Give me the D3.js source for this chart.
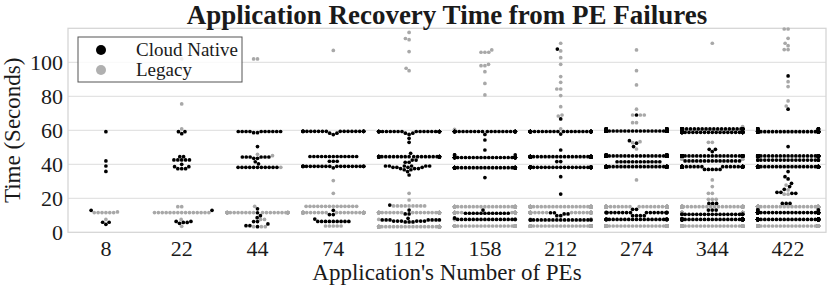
<!DOCTYPE html>
<meta charset="utf-8" />
<style>
  body { margin: 0; background: #fff; }
  text { font-family: "Liberation Serif", "Times New Roman", serif; fill: #1a1a1a; }
  .grid line { stroke: #dcdcdc; stroke-width: 1; }
  .frame { fill: none; stroke: #d4d4d4; stroke-width: 1.25; }
</style>
<svg width="830" height="291"></svg>
<script src="https://d3js.org/d3.v7.min.js"></script>
<script>
  // number of PEs per application (x categories)
  var pes = [8, 22, 44, 74, 112, 158, 212, 274, 344, 422];
  var yTicks = [0, 20, 40, 60, 80, 100];

  // recovery times, [seconds, how many failures] per category
  var cloudNative = [
    [[59.2,1],[42,1],[39,1],[35.8,1],[12.9,1],[5.9,2],[4.7,1]],
    [[59.2,2],[58,1],[44.5,2],[42.6,5],[40,1],[38.6,2],[37.4,3],[12.9,1],[6.4,2],[5.8,2],[5.3,1]],
    [[59.3,10],[58.6,2],[50.4,1],[44.3,6],[43.5,2],[41.5,1],[40.3,1],[38.2,11],[13.8,1],[11.5,1],[9.8,1],[8.6,1],[6.3,2],[4.9,1],[3.9,2],[3.3,1]],
    [[59.4,20],[58.3,2],[57.5,1],[44.6,13],[41.8,3],[38.8,21],[37.9,1],[12.9,1],[10.4,2],[7.8,1],[6.4,9]],
    [[59.3,32],[58.3,2],[57.6,1],[55.3,1],[52.9,1],[46.5,1],[44.5,32],[42.5,2],[41.2,2],[39,6],[38.2,4],[37.5,3],[36.8,2],[35.7,1],[33.7,1],[16,1],[13.1,1],[10.8,2],[8.2,1],[7.3,7],[6.6,6],[6.1,3]],
    [[59.3,40],[57.6,1],[54.3,1],[48.4,1],[45.5,3],[44,40],[38,40],[32.2,1],[13.1,1],[11.2,12],[8.4,2],[7.6,16]],
    [[107.8,1],[66.7,1],[59.3,60],[57.8,1],[48.4,1],[44.5,60],[41.6,2],[38.2,60],[32.7,1],[22.5,1],[11.5,2],[10.8,2],[9.8,2],[7.3,18]],
    [[69,1],[60.8,10],[59.6,65],[53.9,1],[52.4,1],[50.4,1],[45.5,8],[44.9,65],[41.5,12],[38.6,65],[13.5,2],[11.6,16],[9.8,4],[7.6,23]],
    [[60.8,40],[58.8,40],[48.8,2],[47.5,1],[44.9,70],[42,15],[38.6,75],[37,5],[17,3],[13.1,3],[10.6,20],[7.6,70]],
    [[92,1],[72.4,1],[60.8,12],[59.2,70],[50.4,1],[44.9,75],[42.5,20],[38.6,80],[35.7,1],[32.7,1],[31.4,1],[28.8,1],[26.9,1],[25.3,1],[23.5,2],[22.9,2],[17,3],[13.1,5],[11.6,60],[7.6,84]]
  ];
  var legacy = [
    [[12,1],[11.6,6],[7.6,1]],
    [[102,1],[75.5,1],[60.8,1],[15.1,2],[11.6,15],[7.6,1],[3.5,1]],
    [[102,2],[45.9,1],[45.1,1],[38.2,1],[15.3,1],[11.6,33],[7.6,2],[3.3,3]],
    [[107,1],[30.4,1],[22.9,1],[15.3,14],[11.6,52],[3.7,5]],
    [[117.6,1],[114,1],[113.3,1],[106.3,1],[96.5,1],[95.1,1],[22.9,1],[19,1],[15.5,9],[11.6,45],[7.6,1],[3.3,49]],
    [[107.3,1],[105.9,3],[98.8,1],[98,2],[94.5,1],[87.6,1],[80.8,1],[60.6,1],[15.1,40],[11.6,45],[7.6,8],[3.7,54]],
    [[111.2,1],[106.7,1],[102.7,1],[98.8,1],[91.6,1],[88.2,1],[84.3,2],[80.4,1],[73.9,1],[69,1],[68.4,1],[60.8,1],[15.1,60],[11.6,63],[7.6,6],[3.7,70]],
    [[107.3,1],[95.1,1],[86.7,1],[72.4,1],[69,3],[64.5,2],[60.8,1],[53.3,1],[52.7,1],[49,1],[30.8,1],[15.1,90],[11.6,40],[7.6,39],[3.7,90]],
    [[111.2,1],[62.2,1],[52.9,2],[43,5],[30.8,1],[26.9,1],[22.9,2],[19.4,3],[15.1,110],[11.6,40],[7.6,40],[3.7,138]],
    [[119.6,2],[114.1,1],[111.2,1],[109.8,1],[107.5,2],[88.6,1],[85.7,1],[77.3,1],[74.3,1],[60,3],[44,5],[27.8,1],[24.9,1],[22.4,2],[15.1,150],[11.6,40],[7.6,40],[3.7,169]]
  ];
  var seriesNames = ["Cloud Native", "Legacy"];
  var colors = {"Cloud Native": "#000000", "Legacy": "#a8a8a8"};

  var svg = d3.select("svg");
  var plotLeft = 68, plotRight = 826, plotTop = 28.3, plotBottom = 232.3;
  var R = 1.85;

  var x = d3.scaleBand().domain(pes).range([plotLeft, plotRight]);
  var y = d3.scaleLinear().domain([0, 120]).range([plotBottom, plotTop]);

  svg.append("rect").attr("width", 830).attr("height", 291).attr("fill", "#fff");

  svg.append("g").attr("class", "grid")
    .selectAll("line").data(yTicks.slice(1)).enter().append("line")
    .attr("x1", plotLeft).attr("x2", plotRight)
    .attr("y1", function (d) { return y(d); }).attr("y2", function (d) { return y(d); });

  svg.append("rect").attr("class", "frame")
    .attr("x", plotLeft).attr("y", plotTop)
    .attr("width", plotRight - plotLeft).attr("height", plotBottom - plotTop);

  // seaborn-style beeswarm, done in pixels
  function swarm(pts, cx, r, hw) {
    pts.sort(function (a, b) { return b.py - a.py; });
    var placed = [];
    pts.forEach(function (p, i) {
      if (i === 0) { p.px = cx; placed.push(p); return; }
      var nb = [];
      for (var j = placed.length - 1; j >= 0; j--) {
        if (placed[j].py - p.py < 2 * r) nb.push(placed[j]);
        else break;
      }
      var cands = [cx], leftFirst = true;
      nb.forEach(function (q) {
        var dy = q.py - p.py;
        var dx = Math.sqrt(Math.max(4 * r * r - dy * dy, 0)) * 1.05;
        if (leftFirst) cands.push(q.px - dx, q.px + dx);
        else cands.push(q.px + dx, q.px - dx);
        leftFirst = !leftFirst;
      });
      var idx = cands.map(function (c, k) { return k; });
      idx.sort(function (a, b) {
        return (Math.abs(cands[a] - cx) - Math.abs(cands[b] - cx)) || (a - b);
      });
      var chosen = cands[idx[idx.length - 1]];
      for (var k = 0; k < idx.length; k++) {
        var cxk = cands[idx[k]], ok = true;
        for (var m = 0; m < nb.length; m++) {
          var ddx = nb[m].px - cxk, ddy = nb[m].py - p.py;
          if (ddx * ddx + ddy * ddy < 4 * r * r - 1e-6) { ok = false; break; }
        }
        if (ok) { chosen = cxk; break; }
      }
      p.px = chosen;
      placed.push(p);
    });
    pts.forEach(function (p) {
      p.px = Math.max(cx - hw, Math.min(cx + hw, p.px));
    });
  }

  var allPoints = [];
  pes.forEach(function (pe, i) {
    var pts = [];
    [cloudNative[i], legacy[i]].forEach(function (rows, s) {
      rows.forEach(function (row) {
        for (var c = 0; c < row[1]; c++) {
          pts.push({ series: seriesNames[s], value: row[0], py: y(row[0]) });
        }
      });
    });
    swarm(pts, x(pe) + x.bandwidth() / 2, R, x.bandwidth() * 0.4);
    allPoints = allPoints.concat(pts);
  });

  // legacy drawn first, cloud native on top
  allPoints.sort(function (a, b) {
    return (a.series === "Legacy" ? 0 : 1) - (b.series === "Legacy" ? 0 : 1);
  });

  svg.append("g").selectAll("circle").data(allPoints).enter().append("circle")
    .attr("cx", function (d) { return d.px; })
    .attr("cy", function (d) { return d.py; })
    .attr("r", R)
    .attr("fill", function (d) { return colors[d.series]; });

  var yAxis = svg.append("g").attr("transform", "translate(" + plotLeft + ",0)")
    .call(d3.axisLeft(y).tickValues(yTicks).tickSize(0).tickPadding(5));
  yAxis.select(".domain").remove();
  yAxis.selectAll("text").style("font-size", "22px").style("font-family", "Liberation Serif").attr("fill", "#1a1a1a");

  var xAxis = svg.append("g").attr("transform", "translate(0," + plotBottom + ")")
    .call(d3.axisBottom(x).tickSize(0).tickPadding(8));
  xAxis.select(".domain").remove();
  xAxis.selectAll("text").style("font-size", "22px").style("font-family", "Liberation Serif").attr("fill", "#1a1a1a");

  svg.append("text").attr("x", (plotLeft + plotRight) / 2).attr("y", 24)
    .attr("text-anchor", "middle").style("font-size", "27px").style("font-weight", "bold")
    .text("Application Recovery Time from PE Failures");

  svg.append("text").attr("x", (plotLeft + plotRight) / 2).attr("y", 280)
    .attr("text-anchor", "middle").style("font-size", "23px")
    .text("Application's Number of PEs");

  svg.append("text")
    .attr("transform", "translate(20," + (plotTop + plotBottom) / 2 + ") rotate(-90)")
    .attr("text-anchor", "middle").style("font-size", "23px")
    .text("Time (Seconds)");

  // legend
  var legend = svg.append("g");
  legend.append("rect").attr("x", 78).attr("y", 37).attr("width", 164).attr("height", 45)
    .attr("fill", "#fff").attr("fill-opacity", 0.8).attr("stroke", "#555").attr("stroke-width", 1);
  seriesNames.forEach(function (name, i) {
    legend.append("circle").attr("cx", 101).attr("cy", 50 + i * 20).attr("r", 5)
      .attr("fill", i === 0 ? "#000" : "#b0b0b0");
    legend.append("text").attr("x", 136).attr("y", 55.5 + i * 20)
      .style("font-size", "19px").text(name);
  });
</script>
